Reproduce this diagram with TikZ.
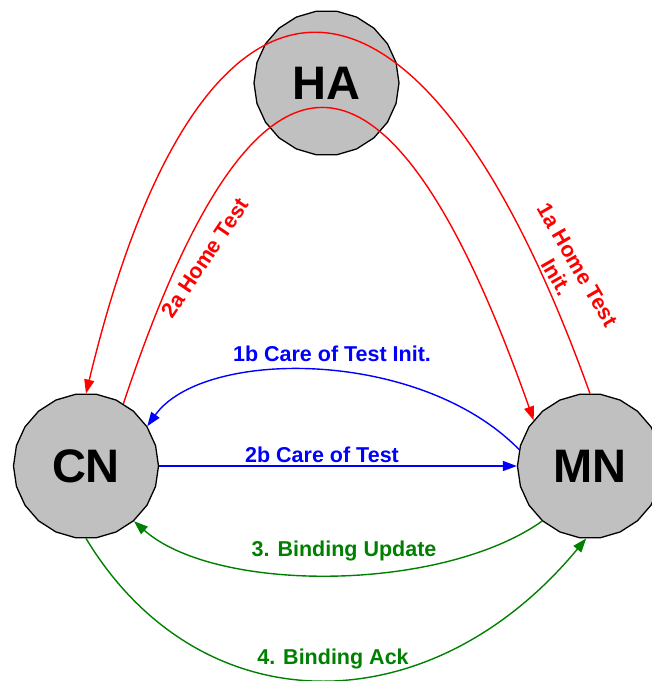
\documentclass[tikz,border=0pt]{standalone}
\usepackage{fontspec}
\setmainfont{Liberation Sans}
\usetikzlibrary{arrows.meta,shapes.geometric}
\definecolor{nodegray}{RGB}{192,192,192}
\definecolor{dgreen}{RGB}{0,128,0}
\tikzset{
  host/.style={regular polygon, regular polygon sides=22, minimum size=145pt, inner sep=0pt,
    draw=black, line width=1.3pt, fill=nodegray, font=\fontsize{47}{52}\selectfont\bfseries},
  msg/.style={line width=1.4pt, -{Triangle[length=14pt,width=10pt]}},
  lbl/.style={font=\fontsize{21.5}{24}\selectfont\bfseries, inner sep=0pt, align=center},
}
\begin{document}
\begin{tikzpicture}[x=1pt,y=-1pt]
\useasboundingbox (0,0) rectangle (652,681);
\node[host] (HA) at (326.5,83) {HA};
\node[host] (CN) at (86,466) {CN};
\node[host] (MN) at (590,466) {MN};
% red: home test init / home test
\draw[msg, red] (MN.north) .. controls (418,-86) and (201,-86) .. (CN.north);
\draw[msg, red] (CN.59) .. controls (255,8) and (388,8) .. (MN.141);
% blue
\draw[msg, blue] (MN.167) .. controls (420,348) and (203,348) .. (CN.33);
\draw[msg, blue] (CN.east) -- (MN.west);
% green
\draw[msg, dgreen] (MN.-131) .. controls (440,593) and (215,593) .. (CN.-49);
\draw[msg, dgreen] (CN.south) .. controls (200,727) and (430,727) .. (MN.-93);
% labels
\node[lbl, red, rotate=-60] (l1a) at (567,271) {1a Home Test\\Init.};
\node[lbl, red, rotate=56] (l2a) at (205,258) {2a Home Test};
\node[lbl, blue] (l1b) at (332,354) {1b Care of Test Init.};
\node[lbl, blue] (l2b) at (322,455) {2b Care of Test};
\node[lbl, dgreen] (l3) at (344,551) {3. Binding Update};
\node[lbl, dgreen] (l4) at (333,659) {4. Binding Ack};
\end{tikzpicture}
\end{document}
